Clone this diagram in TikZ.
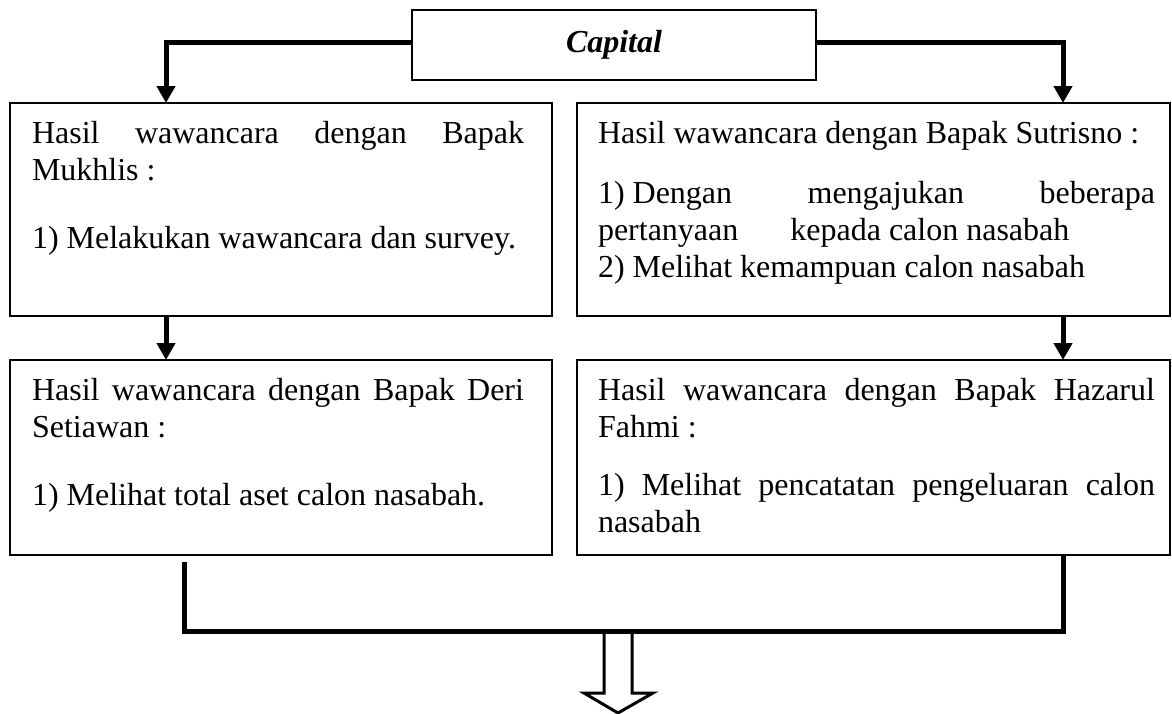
\documentclass[tikz,border=0pt]{standalone}
\usepackage{fontspec}
\setmainfont{Liberation Serif}
\usetikzlibrary{arrows.meta}

\begin{document}
\begin{tikzpicture}[x=1pt,y=-1pt,
  frame/.style={draw, line width=1.6pt, rectangle, inner sep=0pt, outer sep=0pt, anchor=north west},
  body/.style={inner sep=0pt, outer sep=0pt, anchor=base west, font=\fontsize{32}{37}\selectfont},
  feed/.style={line width=5pt, line join=miter, -{Triangle[length=17pt,width=18pt]}},
  bus/.style={line width=5pt, line join=miter},
  hollow/.style={line width=3pt, line join=miter}]

\useasboundingbox (0,0) rectangle (1172,713);

% top heading box
\node[frame, minimum width=404pt, minimum height=70pt,
      font=\fontsize{32}{37}\selectfont\bfseries\itshape] (cap) at (412,10) {Capital};

% interview boxes
\node[frame, minimum width=542pt, minimum height=213pt] (b1) at (10,103) {};
\node[frame, minimum width=593pt, minimum height=213pt] (b2) at (577,103) {};
\node[frame, minimum width=542pt, minimum height=195pt] (b3) at (10,360) {};
\node[frame, minimum width=593pt, minimum height=195pt] (b4) at (577,360) {};

% box texts
\node[body] (t1) at (32,143) {\parbox[t]{492pt}{%
  \makebox[\linewidth][s]{Hasil wawancara dengan Bapak}\\
  Mukhlis :\\[31pt]
  1) Melakukan wawancara dan survey.}};

\node[body] (t2) at (598,143) {\parbox[t]{557pt}{%
  Hasil wawancara dengan Bapak Sutrisno :\\[23pt]
  \makebox[\linewidth][s]{1) Dengan\hfill mengajukan\hfill beberapa}\\
  pertanyaan\hspace{52pt}kepada calon nasabah\\
  2) Melihat kemampuan calon nasabah}};

\node[body] (t3) at (32,400) {\parbox[t]{492pt}{%
  \makebox[\linewidth][s]{Hasil wawancara dengan Bapak Deri}\\
  Setiawan :\\[31pt]
  1) Melihat total aset calon nasabah.}};

\node[body] (t4) at (598,400) {\parbox[t]{557pt}{%
  \makebox[\linewidth][s]{Hasil wawancara dengan Bapak Hazarul}\\
  Fahmi :\\[21pt]
  \makebox[\linewidth][s]{1) Melihat pencatatan pengeluaran calon}\\
  nasabah}};

% branches from the heading
\draw[feed] ([yshift=3pt]cap.west) -| ([xshift=156pt]b1.north west);
\draw[feed] ([yshift=3pt]cap.east) -| ([xshift=486pt]b2.north west);

% first row to second row
\draw[feed] ([xshift=156pt]b1.south west) -- ([xshift=156pt]b3.north west);
\draw[feed] ([xshift=486pt]b2.south west) -- ([xshift=486pt]b4.north west);

% collecting line under the second row
\draw[bus] ([xshift=174pt,yshift=-7pt]b3.south west) -- ++(0,69)
  coordinate (m0) -| ([xshift=486pt]b4.south west);
\coordinate (m) at (618,631);

% hollow output arrow
\draw[hollow, shift={(m)}] (-14,2) -- (-14,62) -- (-34,62) -- (0,82)
  -- (35,62) -- (14,62) -- (14,2);

\end{tikzpicture}
\end{document}
